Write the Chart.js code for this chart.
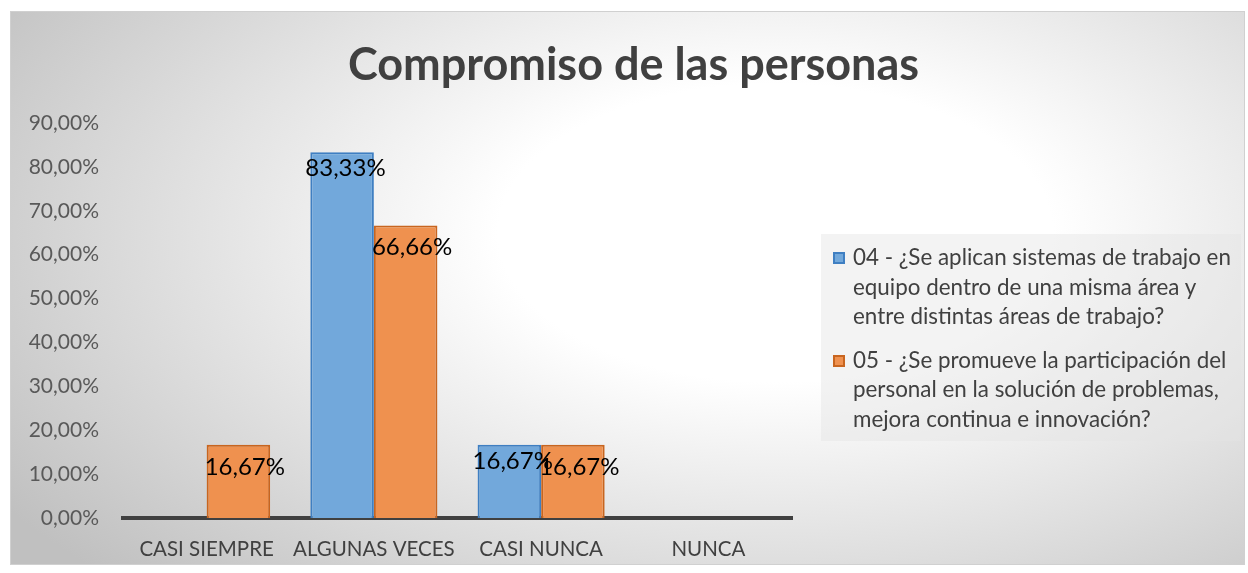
<!DOCTYPE html>
<html>
<head>
<meta charset="utf-8">
<script src="https://cdn.jsdelivr.net/npm/chart.js@4"></script>
<style>
  body { margin: 0; background: #ffffff; }
  #box {
    position: absolute;
    left: 10px;
    top: 11px;
    width: 1235px;
    height: 554px;
    border: 1px solid #d0d0d0;
    box-sizing: border-box;
    background: radial-gradient(ellipse 75% 90% at 62% 40%, #ffffff 0%, #ffffff 30%, #c0c0c0 100%);
    font-family: Lato, 'Open Sans', sans-serif;
  }
  #title {
    position: absolute;
    left: 12px;
    right: 0;
    top: 24px;
    text-align: center;
    color: #404040;
    font-size: 45px;
    font-weight: bold;
    line-height: 54px;
  }
  #chartWrap { position: absolute; left: 0; top: 0; width: 1233px; height: 552px; }
  #legend {
    position: absolute;
    left: 810px;
    top: 222px;
    width: 420px;
    height: 207px;
    background: rgba(228, 228, 228, 0.45);
    box-sizing: border-box;
    padding: 8px 2px 0 12px;
  }
  .item { display: flex; align-items: flex-start; margin-bottom: 14px; }
  .swatch { width: 12px; height: 12px; flex: none; margin: 10px 8px 0 0; border: 2px solid; box-sizing: border-box; }
  .text { color: #404040; font-size: 22.4px; line-height: 29.5px; }
</style>
</head>
<body>
<div id="box">
  <div id="chartWrap"><canvas id="compromisoChart"></canvas></div>
  <div id="title"></div>
  <div id="legend"></div>
</div>
<script>
const chartTitle = 'Compromiso de las personas'
const categories = ['CASI SIEMPRE', 'ALGUNAS VECES', 'CASI NUNCA', 'NUNCA']
const seriesNames = [
  '04 - ¿Se aplican sistemas de trabajo en equipo dentro de una misma área y entre distintas áreas de trabajo?',
  '05 - ¿Se promueve la participación del personal en la solución de problemas, mejora continua e innovación?'
]
const serie04 = [0, 83.33, 16.67, 0]
const serie05 = [16.67, 66.66, 16.67, 0]
const yTicks = [0, 10, 20, 30, 40, 50, 60, 70, 80, 90]

const fills = ['#72a8db', '#ef914f']
const borders = ['#3f7fc2', '#c8651f']
// label nudge per series: [dx from bar left, dy from bar top]
const labelNudge = [[-5, 16], [-2, 22]]

function pct(v) {
  return v.toFixed(2).replace('.', ',') + '%'
}

// value labels drawn near the top of each non-zero bar
const barLabels = {
  id: 'barLabels',
  afterDatasetsDraw(chart) {
    const { ctx } = chart
    ctx.save()
    ctx.font = '24px Lato, sans-serif'
    ctx.fillStyle = '#000000'
    ctx.textAlign = 'left'
    ctx.textBaseline = 'middle'
    chart.data.datasets.forEach((ds, i) => {
      const [dx, dy] = labelNudge[i]
      chart.getDatasetMeta(i).data.forEach((bar, j) => {
        const v = ds.data[j]
        if (!v) return
        const left = bar.x - bar.width / 2
        ctx.fillText(pct(v), left + dx, bar.y + dy)
      })
    })
    ctx.restore()
  }
}

function buildLegend() {
  const el = document.getElementById('legend')
  seriesNames.forEach((name, i) => {
    const item = document.createElement('div')
    item.className = 'item'
    const sw = document.createElement('div')
    sw.className = 'swatch'
    sw.style.background = fills[i]
    sw.style.borderColor = borders[i]
    const tx = document.createElement('div')
    tx.className = 'text'
    tx.textContent = name
    item.appendChild(sw)
    item.appendChild(tx)
    el.appendChild(item)
  })
}

document.addEventListener('DOMContentLoaded', () => {
  document.getElementById('title').textContent = chartTitle
  buildLegend()
  const ctx = document.getElementById('compromisoChart').getContext('2d')

  new Chart(ctx, {
    type: 'bar',
    data: {
      labels: categories,
      datasets: [
        {
          label: seriesNames[0],
          data: serie04,
          backgroundColor: fills[0],
          borderColor: borders[0],
          borderWidth: 2
        },
        {
          label: seriesNames[1],
          data: serie05,
          backgroundColor: fills[1],
          borderColor: borders[1],
          borderWidth: 2
        }
      ]
    },
    options: {
      responsive: true,
      maintainAspectRatio: false,
      animation: false,
      events: [],
      layout: {
        padding: { left: 0, right: 452, top: 111, bottom: 0 }
      },
      datasets: {
        bar: { categoryPercentage: 0.76, barPercentage: 1 }
      },
      scales: {
        x: {
          grid: { display: false, drawTicks: false },
          border: { display: true, color: '#404040', width: 4 },
          ticks: {
            color: '#404040',
            font: { family: 'Lato', size: 20.5 },
            padding: 19,
            maxRotation: 0
          },
          afterFit: scale => { scale.height = 46 }
        },
        y: {
          min: 0,
          max: 90,
          afterBuildTicks: scale => {
            scale.ticks = yTicks.map(v => ({ value: v }))
          },
          grid: { display: false, drawTicks: false },
          border: { display: false },
          ticks: {
            color: '#595959',
            font: { family: 'Lato', size: 21 },
            padding: 24,
            callback: v => pct(v)
          },
          afterFit: scale => { scale.width = 112 }
        }
      },
      plugins: {
        legend: { display: false },
        tooltip: { enabled: false },
        title: { display: false }
      }
    },
    plugins: [barLabels]
  })
})
</script>
</body>
</html>
